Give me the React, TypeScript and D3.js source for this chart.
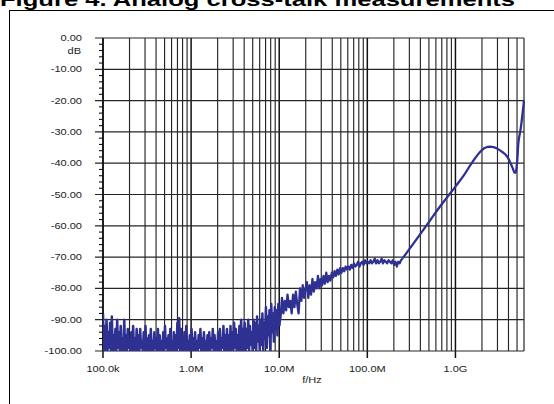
import React from 'react';
import * as d3 from 'd3';

// frequency axis decades and their labels
const decades = [1e5, 1e6, 1e7, 1e8, 1e9];
const decadeLabels = ['100.0k', '1.0M', '10.0M', '100.0M', '1.0G'];
const dbTicks = [0, -10, -20, -30, -40, -50, -60, -70, -80, -90, -100];

// noise floor, 100 kHz .. 10 MHz: peak / trough readings of the trace (log spaced sweep)
const floorSweep = { start: 1e5, stop: 1e7 };
const floorPeaks = [
  -88, -92, -90, -94, -91, -89, -95, -93, -90, -94,
  -92, -96, -90, -95, -93, -97, -94, -92, -96, -93,
  -95, -93, -97, -94, -92, -96, -95, -93, -97, -94,
  -96, -93, -95, -97, -94, -92, -96, -95, -93, -97,
  -94, -95, -91, -89.5, -93, -96, -94, -92, -97, -95,
  -93, -96, -94, -97, -95, -93, -96, -94, -97, -95,
  -94, -96, -93, -95, -97, -94, -93, -96, -92, -95,
  -93, -95, -92, -94, -91, -93, -95, -92, -90, -93,
  -91, -93, -90, -92, -94, -90, -91, -89, -92, -90,
  -88, -91, -86, -89, -87, -85, -88, -86, -87, -85,
];
const floorTroughs = [
  -100, -100, -100, -99, -100, -100, -100, -100, -99, -100,
  -100, -100, -100, -100, -99, -100, -100, -100, -100, -100,
  -100, -99, -100, -100, -100, -100, -100, -100, -100, -99,
  -100, -100, -100, -100, -100, -99, -100, -100, -100, -100,
  -100, -100, -99, -100, -100, -100, -100, -100, -100, -100,
  -100, -100, -100, -100, -99, -100, -100, -100, -100, -100,
  -100, -99, -100, -100, -100, -100, -100, -99, -100, -100,
  -100, -100, -100, -100, -99, -100, -100, -100, -100, -100,
  -100, -99, -100, -98, -100, -99, -100, -97, -100, -98,
  -100, -96, -99, -95, -100, -94, -97, -93, -95, -92,
];

// rising noisy section, 10 MHz .. 250 MHz
const midSweep = { start: 1e7, stop: 2.5e8 };
const midDb = [
  -85, -89, -83, -88, -84, -87, -82, -86, -84, -88,
  -82, -86, -81, -85, -88, -80, -84, -79, -83, -80,
  -78, -83, -79, -82, -77, -81, -78, -80, -76, -80,
  -77, -79, -76, -78.5, -75, -78, -76, -77.5, -75, -76.5,
  -74.5, -76, -74, -75.5, -73.5, -75, -73.5, -74.5, -73, -74,
  -73, -74, -72.5, -73.5, -72, -73, -72.5, -71.5, -73, -72,
  -71.5, -72.5, -71, -72, -71.5, -72, -71, -72, -71.5, -70.5,
  -72, -71, -72, -71.5, -70.5, -72, -71, -71.5, -72, -71,
  -71.5, -72, -71, -72.5, -71.5, -73, -71.5, -72, -71, -70.5,
];

// smooth high-frequency section
const hfFreq = [2.5e8, 3.27e8, 5.09e8, 6.62e8, 8.0e8, 1.03e9, 1.25e9, 1.57e9, 1.88e9, 2.1e9,
  2.33e9, 2.6e9, 2.93e9, 3.43e9, 3.8e9, 4.1e9, 4.45e9, 4.7e9, 4.8e9, 5.0e9, 5.2e9, 5.5e9, 6.0e9];
const hfDb = [-70.5, -66.0, -58.5, -54.0, -51.0, -47.0, -43.8, -39.5, -36.6, -35.3,
  -34.8, -34.8, -35.2, -36.5, -37.6, -39.2, -41.5, -43.0, -43.0, -40.0, -33.0, -29.0, -20.0];

const W = 554;
const H = 404;
const left = 103, right = 524, top = 38, bottom = 351;
const txtScale = 1.3;

type Pt = [number, number];

function sweep(s: { start: number; stop: number }, vals: number[]): Pt[] {
  const n = vals.length;
  return vals.map((v, i) => [s.start * Math.pow(s.stop / s.start, i / (n - 1)), v] as Pt);
}

const App: React.FC = () => {
  const x = d3.scaleLog().domain([1e5, 6e9]).range([left, right]);
  const y = d3.scaleLinear().domain([-100, 0]).range([bottom, top]);

  const floorVals = floorPeaks.flatMap((p, i) => [p, floorTroughs[i]]);
  const floor: Pt[] = sweep(floorSweep, floorVals);
  const mid: Pt[] = [floor[floor.length - 1], ...sweep(midSweep, midDb).slice(1)];
  const hf: Pt[] = hfFreq.map((f, i) => [f, hfDb[i]] as Pt);

  const lin = d3.line<Pt>().x(d => x(d[0])).y(d => y(d[1]));
  const smooth = d3.line<Pt>().x(d => x(d[0])).y(d => y(d[1])).curve(d3.curveCatmullRom.alpha(0.5));

  // minor grid: 2..9 in each decade, 2G..5G in the last
  const minors: number[] = [];
  for (const d of decades) {
    for (let k = 2; k <= 9; k++) {
      const f = d * k;
      if (f < 6e9) minors.push(f);
    }
  }
  const minorDb = d3.range(0, -101, -2).filter(v => v % 10 !== 0);

  const font = 'Liberation Sans, Arial, Helvetica, sans-serif';
  const txtColor = '#222';
  const grid = '#262626';
  const blue = '#2E3192';

  return (
    <svg width={W} height={H} style={{ position: 'absolute', left: 0, top: 0, background: '#fff' }}>
      <defs>
        <clipPath id="plot">
          <rect x={left} y={top - 1} width={right - left + 1} height={bottom - top + 1} />
        </clipPath>
      </defs>
      <text x={0} y={5.5} fontFamily={font} fontWeight="bold" fontSize={19} textLength={515}
        lengthAdjust="spacingAndGlyphs" fill="#000">Figure 4. Analog cross-talk measurements</text>
      <line x1={9} y1={10.5} x2={W} y2={10.5} stroke="#000" strokeWidth={1} />
      <line x1={9.5} y1={10} x2={9.5} y2={H} stroke="#000" strokeWidth={1} />

      {/* grid */}
      {minors.map(f => (
        <line key={'m' + f} x1={x(f)} x2={x(f)} y1={top} y2={bottom} stroke={grid} strokeWidth={1.15} />
      ))}
      {decades.map(f => (
        <line key={'d' + f} x1={x(f)} x2={x(f)} y1={top} y2={bottom + 7} stroke="#111" strokeWidth={1.5} />
      ))}
      {dbTicks.map(v => (
        <line key={'h' + v} x1={left - 8} x2={right} y1={y(v)} y2={y(v)} stroke={grid} strokeWidth={1.2} />
      ))}
      {minorDb.map(v => (
        <line key={'t' + v} x1={left - 4} x2={left} y1={y(v)} y2={y(v)} stroke="#111" strokeWidth={1.1} />
      ))}
      <line x1={right} x2={right} y1={top} y2={bottom} stroke={grid} strokeWidth={1.2} />
      <line x1={left} x2={left} y1={top} y2={bottom} stroke="#111" strokeWidth={1.5} />

      {/* trace */}
      <g clipPath="url(#plot)" fill="none" stroke={blue} strokeLinejoin="round">
        <path d={lin(floor) ?? ''} strokeWidth={2.5} />
        <path d={lin(mid) ?? ''} strokeWidth={2.3} />
        <path d={smooth(hf) ?? ''} strokeWidth={2.3} />
      </g>

      {/* labels */}
      {dbTicks.map(v => (
        <text key={'yl' + v} transform={`translate(82,${y(v) + 3}) scale(${txtScale},1)`} textAnchor="end"
          fontFamily={font} fontSize={8.5} fill={txtColor}>{v === 0 ? '0.00' : '-' + Math.abs(v).toFixed(2)}</text>
      ))}
      <text transform={`translate(81,${y(-5) + 0.5}) scale(${txtScale},1)`} textAnchor="end"
        fontFamily={font} fontSize={8.5} fill={txtColor}>dB</text>
      {decades.map((f, i) => (
        <text key={'xl' + f} transform={`translate(${x(f)},372) scale(${txtScale},1)`} textAnchor="middle"
          fontFamily={font} fontSize={8.5} fill={txtColor}>{decadeLabels[i]}</text>
      ))}
      <text transform={`translate(312,383) scale(${txtScale},1)`} textAnchor="middle"
        fontFamily={font} fontSize={8.5} fill={txtColor}>f/Hz</text>
    </svg>
  );
};

export default App;
